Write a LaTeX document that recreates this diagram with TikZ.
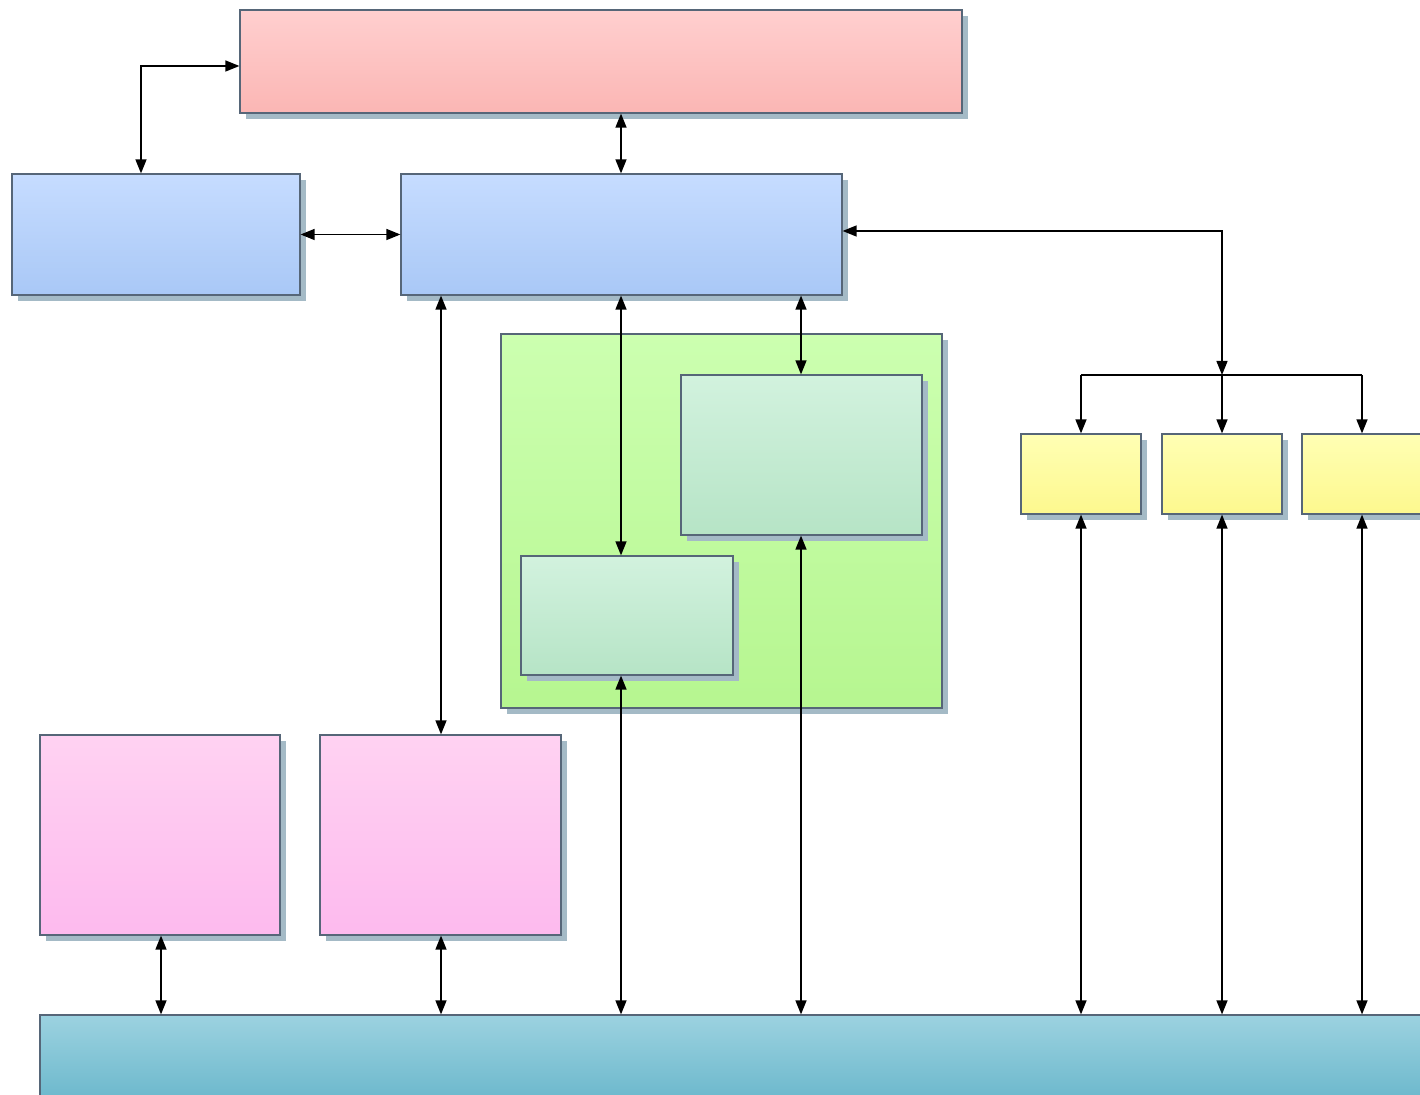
\documentclass[tikz,border=0pt]{standalone}
\usetikzlibrary{arrows.meta}
\usetikzlibrary{fit}
\usetikzlibrary{shadows}

\definecolor{boxline}{HTML}{566678}
\definecolor{shadowblue}{HTML}{A4BAC6}
\definecolor{redtop}{HTML}{FFCFCF}
\definecolor{redbot}{HTML}{FBB6B4}
\definecolor{bluetop}{HTML}{C6DCFF}
\definecolor{bluebot}{HTML}{A9C8F6}
\definecolor{greentop}{HTML}{CCFFB0}
\definecolor{greenbot}{HTML}{B6F690}
\definecolor{mintop}{HTML}{D2F2DE}
\definecolor{minbot}{HTML}{B6E4C6}
\definecolor{yeltop}{HTML}{FFFFB4}
\definecolor{yelbot}{HTML}{FDF88E}
\definecolor{pinktop}{HTML}{FFD2F2}
\definecolor{pinkbot}{HTML}{FDBAEE}
\definecolor{bustop}{HTML}{9CD2E0}
\definecolor{busbot}{HTML}{6CB8CC}

\begin{document}
\begin{tikzpicture}[x=0.5pt, y=-0.5pt,
    box/.style={draw=boxline, line width=0.6pt, inner sep=0pt,
        drop shadow={shadow xshift=3pt, shadow yshift=-3pt, fill=shadowblue, opacity=1}},
    link/.style={line width=0.7pt, {Triangle[length=7pt,width=5.5pt]}-{Triangle[length=7pt,width=5.5pt]}},
    feed/.style={line width=0.7pt, -{Triangle[length=7pt,width=5.5pt]}}]
\useasboundingbox (0,0) rectangle (1420,1095);

% boxes
\node[box, fit={(240,10) (962,113)}, top color=redtop, bottom color=redbot] (master) {};
\node[box, fit={(12,174) (300,295)}, top color=bluetop, bottom color=bluebot] (sideblue) {};
\node[box, fit={(401,174) (842,295)}, top color=bluetop, bottom color=bluebot] (core) {};
\node[box, fit={(501,334) (942,708)}, top color=greentop, bottom color=greenbot] (cluster) {};
\node[box, fit={(681,375) (922,535)}, top color=mintop, bottom color=minbot] (upgreen) {};
\node[box, fit={(521,556) (733,675)}, top color=mintop, bottom color=minbot] (lowgreen) {};
\node[box, fit={(1021,434) (1141,514)}, top color=yeltop, bottom color=yelbot] (yelA) {};
\node[box, fit={(1162,434) (1282,514)}, top color=yeltop, bottom color=yelbot] (yelB) {};
\node[box, fit={(1302,434) (1422,514)}, top color=yeltop, bottom color=yelbot] (yelC) {};
\node[box, fit={(40,735) (280,935)}, top color=pinktop, bottom color=pinkbot] (pinkA) {};
\node[box, fit={(320,735) (561,935)}, top color=pinktop, bottom color=pinkbot] (pinkB) {};
\node[box, fit={(40,1015) (1440,1100)}, top color=bustop, bottom color=busbot] (bus) {};

% upper links
\draw[link] (141,0 |- sideblue.north) |- (master.west |- 0,66);
\draw[link] (621,0 |- master.south) -- (621,0 |- core.north);
\draw[link] (sideblue.east) -- (core.west);
\coordinate (split) at (1222,375);
\draw[link] (core.east |- 0,231) -| (split);
\draw[line width=0.7pt] (split -| yelA.north) -- (split -| yelC.north);
\foreach \n in {yelA, yelB, yelC}
    \draw[feed] (split -| \n.north) -- (\n.north);

% links from the core
\draw[link] (441,0 |- core.south) -- (441,0 |- pinkB.north);
\draw[link] (621,0 |- core.south) -- (621,0 |- lowgreen.north);
\draw[link] (801,0 |- core.south) -- (801,0 |- upgreen.north);

% links to the bus
\foreach \x/\n in {161/pinkA, 441/pinkB, 621/lowgreen, 801/upgreen, 1081/yelA, 1222/yelB, 1362/yelC}
    \draw[link] (\x,0 |- \n.south) -- (\x,0 |- bus.north);
\end{tikzpicture}
\end{document}
